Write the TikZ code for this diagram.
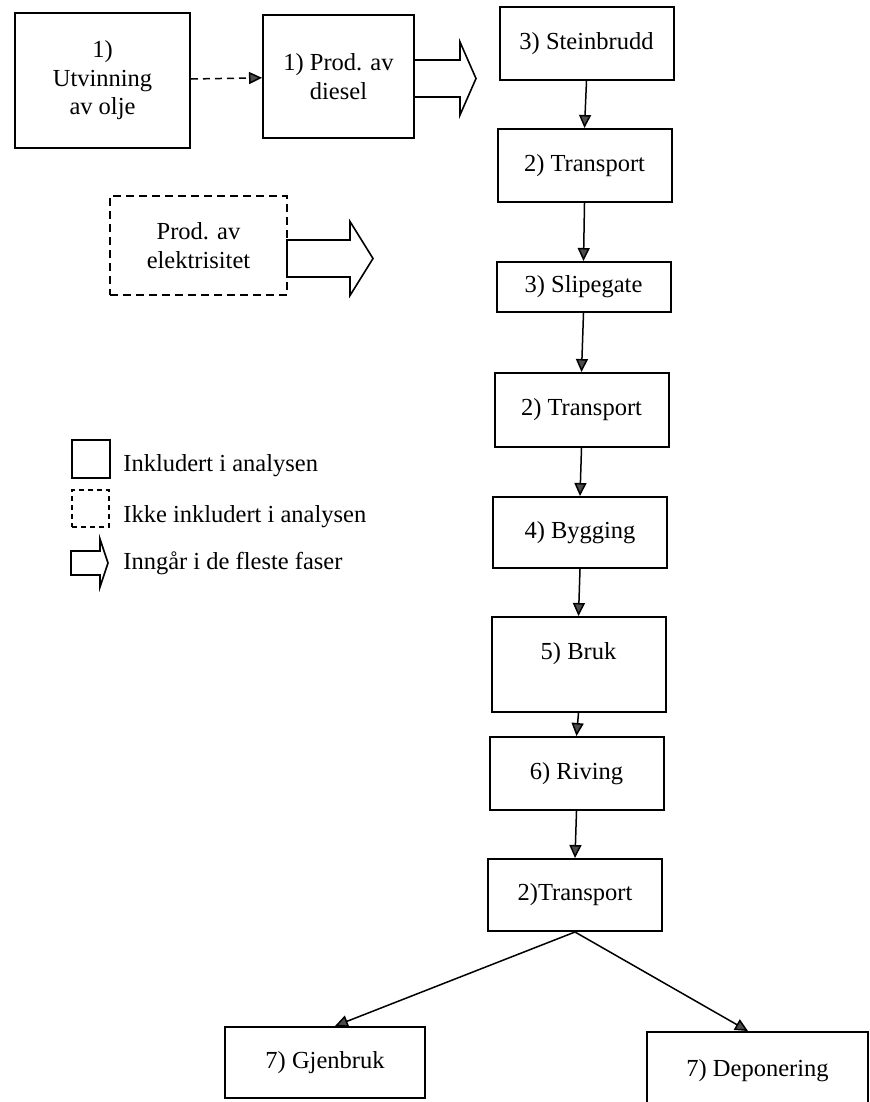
\documentclass[tikz,border=0pt]{standalone}
\usepackage{fontspec}
\setmainfont{Liberation Serif}
\usetikzlibrary{arrows.meta}

\newcommand{\fatarrow}[6]{
			\begin{scope}[shift={(#1,#2)}]
				% Shaft and head (x, y, shaft length, shaft half, head length, head half)
				\draw[line width=0.8pt, line join=miter] (0,-#4) -- (#3,-#4) -- (#3,-#6)
				-- (#3+#5,0) -- (#3,#6) -- (#3,#4) -- (0,#4) -- cycle;
			\end{scope}
		}

\begin{document}
\begin{tikzpicture}[
			x=0.5pt, y=-0.5pt,
			box/.style={
				draw,
				line width=1pt,
				minimum width=87pt,
				minimum height=36.5pt,
				inner sep=2pt,
				align=center,
				font=\fontsize{12.25}{14.2}\selectfont
			},
			dashbox/.style={box, dash pattern=on 4pt off 2.5pt},
			flow/.style={line width=0.75pt, -{Triangle[width=6pt,length=6.5pt,fill=black!70]}},
			keytext/.style={anchor=west, inner sep=0pt, font=\fontsize{12.25}{14.2}\selectfont}
			]

			\useasboundingbox (0,0) rectangle (870,1102);
			\clip (0,0) rectangle (870,1102);

			% Energy
			\node[box, minimum width=87.5pt, minimum height=67.5pt] (olje) at (102.5,80.5) {1)\\Utvinning\\av olje};
			\node[box, minimum width=75.5pt, minimum height=61.5pt] (diesel) at (338.5,76.5) {1) Prod. av\\diesel};
			\node[dashbox, minimum width=88.5pt, minimum height=49.5pt] (el) at (198.5,245.5) {Prod. av\\elektrisitet};
			\draw[flow, dash pattern=on 3.5pt off 2.5pt] (olje) -- (diesel);

			\fatarrow{414}{78.5}{46}{18.5}{16}{36.5}
			\fatarrow{287}{258.5}{63}{18.5}{23}{37}

			% Life cycle phases
			\node[box] (stein) at (586.5,43.5) {3) Steinbrudd};
			\node[box] (trans1) at (584.5,165.5) {2) Transport};
			\node[box, minimum height=25pt] (slip) at (583.5,287) {3) Slipegate};
			\node[box, minimum height=37pt] (trans2) at (581.5,410) {2) Transport};
			\node[box, minimum height=35.5pt] (bygg) at (580,532.5) {4) Bygging};
			\node[box, inner ysep=0pt, text height=21pt, text depth=26.5pt] (bruk) at (578.5,664.5) {5) Bruk};
			\node[box] (riving) at (576.5,773.5) {6) Riving};
			\node[box, minimum height=36pt] (trans3) at (575,895) {2)Transport};
			\node[box, minimum width=100pt, minimum height=35.5pt] (gjen) at (325,1062.5) {7) Gjenbruk};
			\node[box, minimum width=110.5pt, minimum height=38.5pt] (depo) at (757.5,1070.5) {7) Deponering};

			\draw[flow] (stein.south) -- (trans1.north);
			\draw[flow] (trans1.south) -- (slip.north);
			\draw[flow] (slip.south) -- (trans2.north);
			\draw[flow] (trans2.south) -- (bygg.north);
			\draw[flow] (bygg.south) -- (bruk.north);
			\draw[flow] (bruk.south) -- (riving.north);
			\draw[flow] (riving.south) -- (trans3.north);
			\draw[flow] (trans3.south) -- ([xshift=5pt]gjen.north);
			\draw[flow] (trans3.south) -- ([xshift=-4.75pt]depo.north);

			% Legend
			\node[box, minimum width=19pt, minimum height=19pt] (keyin) at (91,459) {};
			\node[dashbox, line width=0.8pt, dash pattern=on 2.5pt off 2pt, minimum width=18.5pt, minimum height=18.5pt] (keyout) at (90.5,508.5) {};
			\fatarrow{71}{563}{29}{12}{8}{24}
			\node[keytext] (tin) at (123,466) {Inkludert i analysen};
			\node[keytext] (tout) at (123,517) {Ikke inkludert i analysen};
			\node[keytext] (tfat) at (123,563) {Inngår i de fleste faser};

		\end{tikzpicture}
\end{document}
